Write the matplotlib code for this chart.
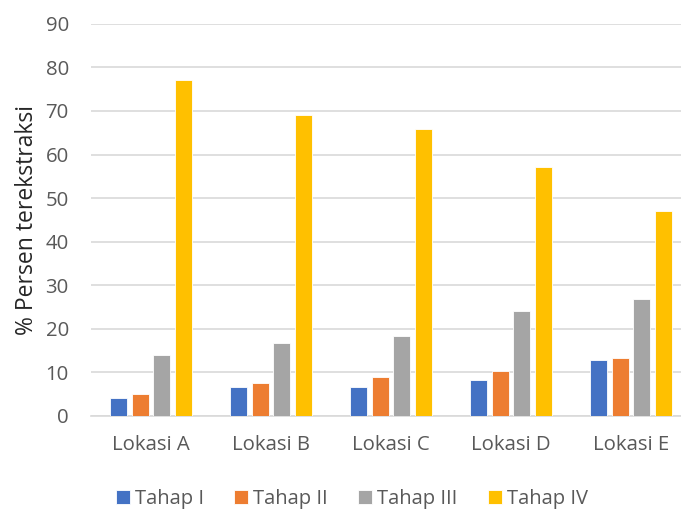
import matplotlib.pyplot as plt
import numpy as np

plt.rcParams['font.family'] = ['Open Sans', 'DejaVu Sans']

lokasi = ['Lokasi A', 'Lokasi B', 'Lokasi C', 'Lokasi D', 'Lokasi E']
tahap_1 = [4.0, 6.7, 6.7, 8.3, 12.8]
tahap_2 = [5.0, 7.4, 8.9, 10.3, 13.3]
tahap_3 = [13.9, 16.6, 18.4, 24.1, 26.8]
tahap_4 = [77.0, 69.1, 65.9, 57.1, 47.0]
seri = ['Tahap I', 'Tahap II', 'Tahap III', 'Tahap IV']
warna = ['#4472c4', '#ed7d31', '#a5a5a5', '#ffc000']

text_col = '#595959'

fig = plt.figure(figsize=(6.81, 5.09), dpi=100)
ax = fig.add_axes([91 / 681, 93.3 / 509, 590 / 681, 391.8 / 509])

x = np.arange(len(lokasi))
pitch = 0.1825
width = 0.142
for i, (vals, lab) in enumerate(zip([tahap_1, tahap_2, tahap_3, tahap_4], seri)):
    ax.bar(x + (i - 1.5) * pitch, vals, width, color=warna[i], label=lab,
           edgecolor='white', linewidth=0.6, zorder=3)

ax.set_xlim(-0.5, -0.5 + 590 / 120)
ax.set_ylim(0, 90)
ax.set_yticks(range(0, 91, 10))
ax.set_xticks(x)
ax.set_xticklabels(lokasi)
ax.grid(axis='y', color='#d9d9d9', linewidth=1.2, zorder=0)
for s in ['top', 'right', 'left']:
    ax.spines[s].set_visible(False)
ax.spines['bottom'].set_color('#d9d9d9')
ax.spines['bottom'].set_linewidth(1.2)
ax.tick_params(length=0, labelsize=14.7, colors=text_col)
ax.tick_params(axis='x', pad=14)
ax.tick_params(axis='y', pad=16)
ax.set_ylabel('% Persen terekstraksi', fontsize=16.5, color='#262626', labelpad=5)

fig.legend(loc='center', bbox_to_anchor=(352 / 681, 1 - 499 / 509), ncol=4,
           frameon=False, fontsize=14.5, handlelength=0.7, handleheight=0.7,
           handletextpad=0.25, columnspacing=1.5, labelcolor=text_col)

fig.savefig('out.png', dpi=100)
